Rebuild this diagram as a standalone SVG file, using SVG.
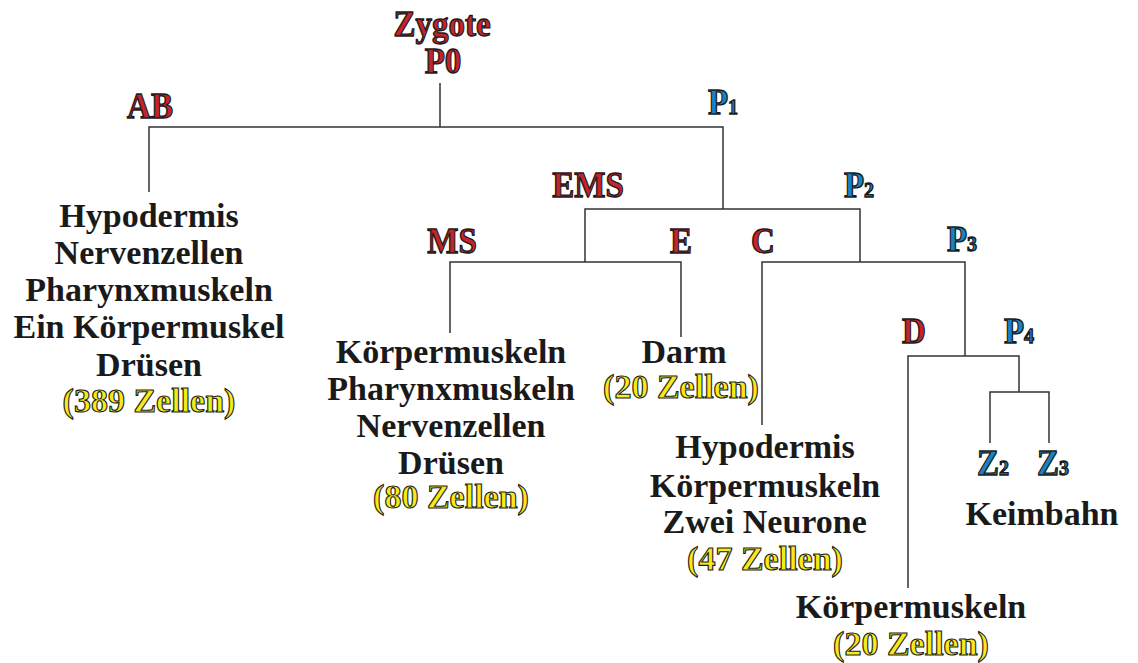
<svg xmlns="http://www.w3.org/2000/svg" width="1138" height="663" viewBox="0 0 1138 663">
<g id="connectors" fill="none" stroke="#333" stroke-width="1.5">
<path d="M440 83V127M149 192V127H723V209"/>
<path d="M585 262V209H860V262"/>
<path d="M450 333V262H681V337"/>
<path d="M762 425V262H965V356"/>
<path d="M908 588V356H1019V392"/>
<path d="M990 443V392H1049V443"/>
</g>
<g font-size="33" font-weight="bold" fill="#c6232b" stroke="#1a1a1a" stroke-width="1.2">
<g id="zygote">
<text font-family="Times New Roman" transform="translate(393.4,36) scale(1,1.06)">Zygote</text>
<text font-family="Times New Roman" transform="translate(424.7,73) scale(1,1.08)">P0</text>
</g>
<g id="AB"><text font-family="Times New Roman" transform="translate(127.1,118) scale(1,1.1)">AB</text></g>
<g id="EMS"><text font-family="Times New Roman" transform="translate(552.3,197) scale(1,1.1)">EMS</text></g>
<g id="MS"><text font-family="Times New Roman" transform="translate(427.3,253) scale(1,1.1)">MS</text></g>
<g id="E"><text font-family="Times New Roman" transform="translate(670,253) scale(1,1.1)">E</text></g>
<g id="C"><text font-family="Times New Roman" transform="translate(751.1,253) scale(1,1.1)">C</text></g>
<g id="D"><text font-family="Times New Roman" transform="translate(902.1,343) scale(1,1.1)">D</text></g>
</g>
<g font-size="33" font-weight="bold" fill="#1783c4" stroke="#1a1a1a" stroke-width="1.2">
<g id="P1"><text font-family="Times New Roman" transform="translate(707.9,114) scale(1,1.1)">P<tspan font-size="20">1</tspan></text></g>
<g id="P2"><text font-family="Times New Roman" transform="translate(843.9,197) scale(1,1.1)">P<tspan font-size="20">2</tspan></text></g>
<g id="P3"><text font-family="Times New Roman" transform="translate(946.9,251) scale(1,1.1)">P<tspan font-size="20">3</tspan></text></g>
<g id="P4"><text font-family="Times New Roman" transform="translate(1003.9,343) scale(1,1.1)">P<tspan font-size="20">4</tspan></text></g>
<g id="Z2"><text font-family="Times New Roman" transform="translate(977,475) scale(1,1.1)">Z<tspan font-size="20">2</tspan></text></g>
<g id="Z3"><text font-family="Times New Roman" transform="translate(1037,475) scale(1,1.1)">Z<tspan font-size="20">3</tspan></text></g>
</g>
<g font-size="34" font-weight="bold" fill="#1a1a1a">
<g id="AB-fate">
<text font-family="Times New Roman" x="59.3" y="227">Hypodermis</text>
<text font-family="Times New Roman" x="54.6" y="264">Nervenzellen</text>
<text font-family="Times New Roman" x="25.3" y="301">Pharynxmuskeln</text>
<text font-family="Times New Roman" x="13.5" y="338">Ein Körpermuskel</text>
<text font-family="Times New Roman" x="96.1" y="376">Drüsen</text>
<text font-family="Times New Roman" x="62.6" y="412" fill="#f7ea1c" stroke="#1a1a1a" stroke-width="1.1">(389 Zellen)</text>
</g>
<g id="MS-fate">
<text font-family="Times New Roman" x="335.8" y="363">Körpermuskeln</text>
<text font-family="Times New Roman" x="327.3" y="400">Pharynxmuskeln</text>
<text font-family="Times New Roman" x="356.6" y="437">Nervenzellen</text>
<text font-family="Times New Roman" x="398.1" y="474">Drüsen</text>
<text font-family="Times New Roman" x="373.1" y="508" fill="#f7ea1c" stroke="#1a1a1a" stroke-width="1.1">(80 Zellen)</text>
</g>
<g id="E-fate">
<text font-family="Times New Roman" x="641.5" y="363">Darm</text>
<text font-family="Times New Roman" x="603.1" y="398" fill="#f7ea1c" stroke="#1a1a1a" stroke-width="1.1">(20 Zellen)</text>
</g>
<g id="C-fate">
<text font-family="Times New Roman" x="675.3" y="458">Hypodermis</text>
<text font-family="Times New Roman" x="649.8" y="497">Körpermuskeln</text>
<text font-family="Times New Roman" x="662.5" y="533">Zwei Neurone</text>
<text font-family="Times New Roman" x="687.1" y="570" fill="#f7ea1c" stroke="#1a1a1a" stroke-width="1.1">(47 Zellen)</text>
</g>
<g id="D-fate">
<text font-family="Times New Roman" x="795.8" y="618">Körpermuskeln</text>
<text font-family="Times New Roman" x="833.1" y="655" fill="#f7ea1c" stroke="#1a1a1a" stroke-width="1.1">(20 Zellen)</text>
</g>
<g id="Keimbahn"><text font-family="Times New Roman" x="965.5" y="525">Keimbahn</text></g>
</g>
</svg>
